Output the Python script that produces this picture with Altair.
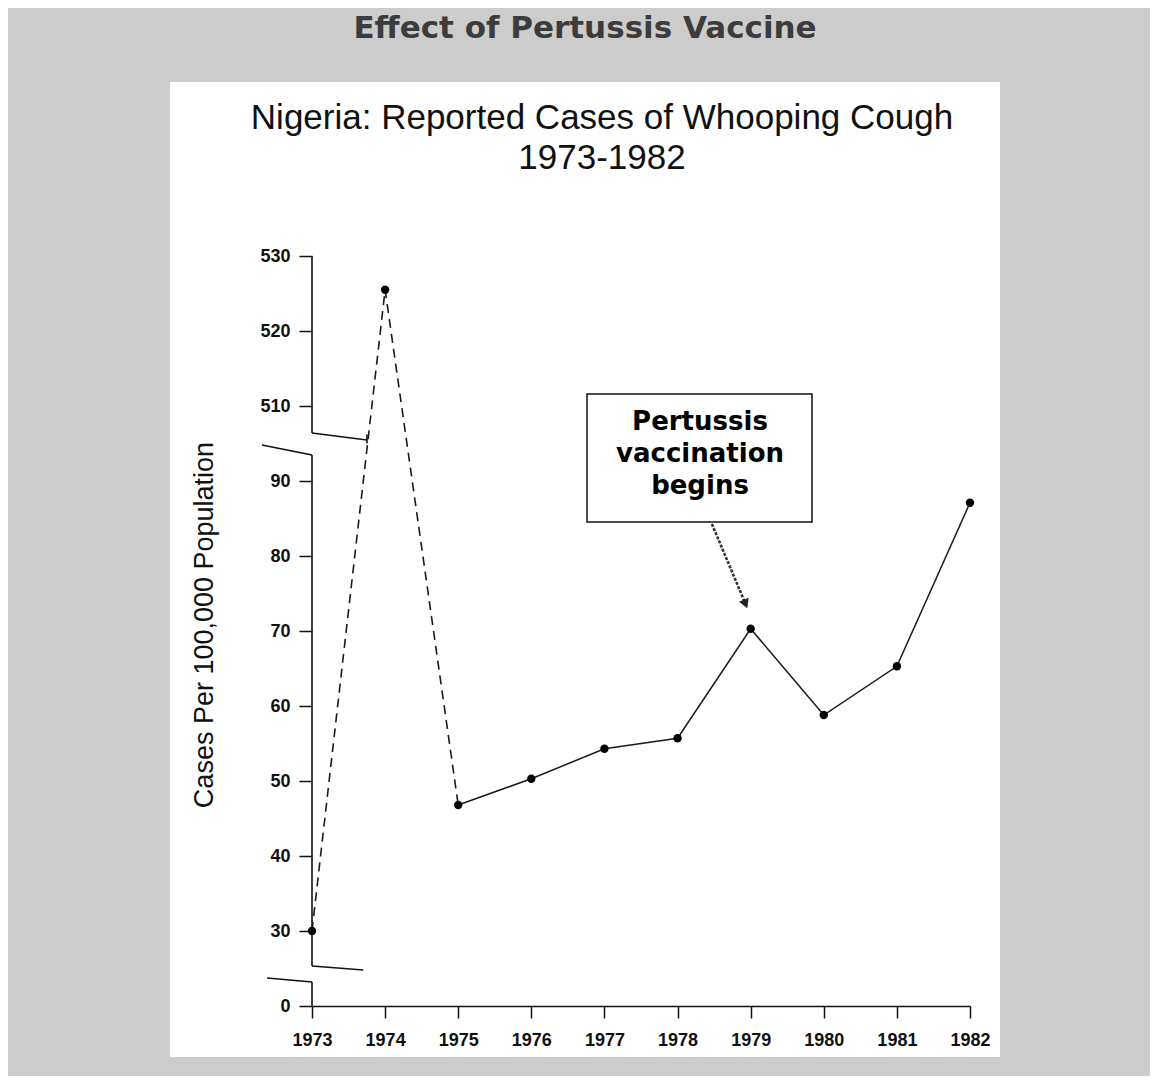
import altair as alt
import pandas as pd

# ---- data ----
years = [1973, 1974, 1975, 1976, 1977, 1978, 1979, 1980, 1981, 1982]
cases = [30, 525.5, 46.8, 50.3, 54.3, 55.7, 70.3, 58.8, 65.3, 87.1]
dashed_years = [1973, 1974, 1975]          # early reporting period, dashed
solid_years = [1975, 1976, 1977, 1978, 1979, 1980, 1981, 1982]
y_tick_labels = ["0", "30", "40", "50", "60", "70", "80", "90", "510", "520", "530"]

# broken-axis decoration (in axis slot units: each tick label = one slot)
axis_seg_top = [10, 7.347, 0.32]
axis_seg_bot = [7.64, 0.533, 0]
brk_x1 = [1973, 1972.316, 1973, 1972.385, 1973.752]
brk_x2 = [1973.752, 1973, 1973.70, 1973, 1973.752]
brk_y1 = [7.64, 7.48, 0.533, 0.373, 7.62]
brk_y2 = [7.547, 7.347, 0.48, 0.32, 7.50]

# annotation arrow (points near the 1979 value)
arrow_x = [1978.47, 1978.93]
arrow_y = [6.427, 5.36]

df = pd.DataFrame({"year": years, "cases": cases})
df_dash = df[df["year"].isin(dashed_years)].copy()
df_solid = df[df["year"].isin(solid_years)].copy()

slot_expr = ("datum.cases <= 30 ? datum.cases / 30 : "
             "(datum.cases <= 90 ? 1 + (datum.cases - 30) / 10 : 8 + (datum.cases - 510) / 10)")

xs = alt.Scale(domain=[1973, 1982], nice=False, zero=False)
ys = alt.Scale(domain=[0, 10], nice=False, zero=False)

label_arr = "[" + ",".join("'%s'" % s for s in y_tick_labels) + "]"

xaxis = alt.Axis(values=years, format="d", title=None, grid=False, zindex=2,
                 domain=True, domainColor="#111111", domainWidth=1.5,
                 ticks=True, tickSize=12, tickColor="#111111", tickWidth=1.5,
                 labelFlush=False, labelOverlap=False,
                 labelPadding=13, labelFont="Liberation Sans", labelFontSize=18,
                 labelFontWeight="bold", labelColor="#111111")
yaxis = alt.Axis(values=list(range(11)), labelExpr=label_arr + "[datum.value]",
                 title=None, grid=False, domain=False, zindex=2,
                 ticks=True, tickSize=13, tickColor="#111111", tickWidth=1.5,
                 labelFlush=False, labelOverlap=False,
                 labelPadding=9, labelFont="Liberation Sans", labelFontSize=18,
                 labelFontWeight="bold", labelColor="#111111")

def X(field):
    return alt.X(field, scale=xs, axis=xaxis)

def Y(field):
    return alt.Y(field, scale=ys, axis=yaxis)

# white panel behind the scanned chart
panel = alt.Chart(pd.DataFrame({"a": [0]})).mark_rect(color="white").encode(
    x=alt.value(-142), x2=alt.value(688), y=alt.value(-174), y2=alt.value(801)
)

# annotation box
box = alt.Chart(pd.DataFrame({"a": [0]})).mark_rect(
    fill="white", stroke="#111111", strokeWidth=1.5
).encode(x=alt.value(275), x2=alt.value(500), y=alt.value(138), y2=alt.value(266))

box_text = alt.Chart(pd.DataFrame({"a": [0]})).mark_text(
    font="DejaVu Sans", fontSize=26, fontWeight="bold", color="#000000",
    align="center", baseline="middle", lineHeight=32
).encode(x=alt.value(388), y=alt.value(166),
         text=alt.value(["Pertussis", "vaccination", "begins"]))

axis_df = pd.DataFrame({"x": [1973] * len(axis_seg_top), "y1": axis_seg_top, "y2": axis_seg_bot})
axis_lines = alt.Chart(axis_df).mark_rule(color="#111111", strokeWidth=1.6).encode(
    x=X("x:Q"), y=Y("y1:Q"), y2="y2:Q"
)

brk_df = pd.DataFrame({"x1": brk_x1, "x2": brk_x2, "y1": brk_y1, "y2": brk_y2})
breaks = alt.Chart(brk_df).mark_rule(color="#111111", strokeWidth=1.6).encode(
    x=X("x1:Q"), x2="x2:Q", y=Y("y1:Q"), y2="y2:Q"
)

line_dash = alt.Chart(df_dash).transform_calculate(slot=slot_expr).mark_line(
    color="#1a1a1a", strokeWidth=1.6, strokeDash=[9, 6]
).encode(x=X("year:Q"), y=Y("slot:Q"))

line_solid = alt.Chart(df_solid).transform_calculate(slot=slot_expr).mark_line(
    color="#1a1a1a", strokeWidth=1.5
).encode(x=X("year:Q"), y=Y("slot:Q"))

points = alt.Chart(df).transform_calculate(slot=slot_expr).mark_circle(
    color="#000000", size=70, opacity=1
).encode(x=X("year:Q"), y=Y("slot:Q"))

arrow_df = pd.DataFrame({"x": arrow_x, "y": arrow_y, "o": [0, 1]})
arrow_line = alt.Chart(arrow_df).mark_line(color="#333333", strokeWidth=2.6,
                                           strokeDash=[3, 1.5]).encode(
    x=X("x:Q"), y=Y("y:Q"), order="o:Q"
)
arrow_head = alt.Chart(arrow_df[arrow_df["o"] == 1]).mark_point(
    shape="triangle-up", angle=157.5, filled=True, color="#222222", size=110, opacity=1
).encode(x=X("x:Q"), y=Y("y:Q"))

main_title = alt.Chart(pd.DataFrame({"a": [0]})).mark_text(
    font="DejaVu Sans", fontSize=31, fontWeight="bold", color="#3c3c3c",
    align="center", baseline="middle"
).encode(x=alt.value(273), y=alt.value(-227), text=alt.value("Effect of Pertussis Vaccine"))

inner_title = alt.Chart(pd.DataFrame({"a": [0]})).mark_text(
    font="Liberation Sans", fontSize=35, color="#111111",
    align="center", baseline="middle", lineHeight=40
).encode(x=alt.value(290), y=alt.value(-138),
         text=alt.value(["Nigeria: Reported Cases of Whooping Cough", "1973-1982"]))

y_title = alt.Chart(pd.DataFrame({"a": [0]})).mark_text(
    font="Liberation Sans", fontSize=27, color="#111111",
    align="center", baseline="middle", angle=270
).encode(x=alt.value(-107), y=alt.value(369),
         text=alt.value("Cases Per 100,000 Population"))

chart = alt.layer(
    panel, box, axis_lines, breaks, line_dash, line_solid, points,
    arrow_line, arrow_head, box_text, main_title, inner_title, y_title
).properties(
    width=658, height=750,
    background="#cccccc",
    autosize=alt.AutoSizeParams(type="none"),
    padding={"left": 304, "top": 248, "right": 180, "bottom": 70},
).configure_view(stroke=None)

chart.save("out.html", embed_options={"renderer": "svg", "actions": False})
